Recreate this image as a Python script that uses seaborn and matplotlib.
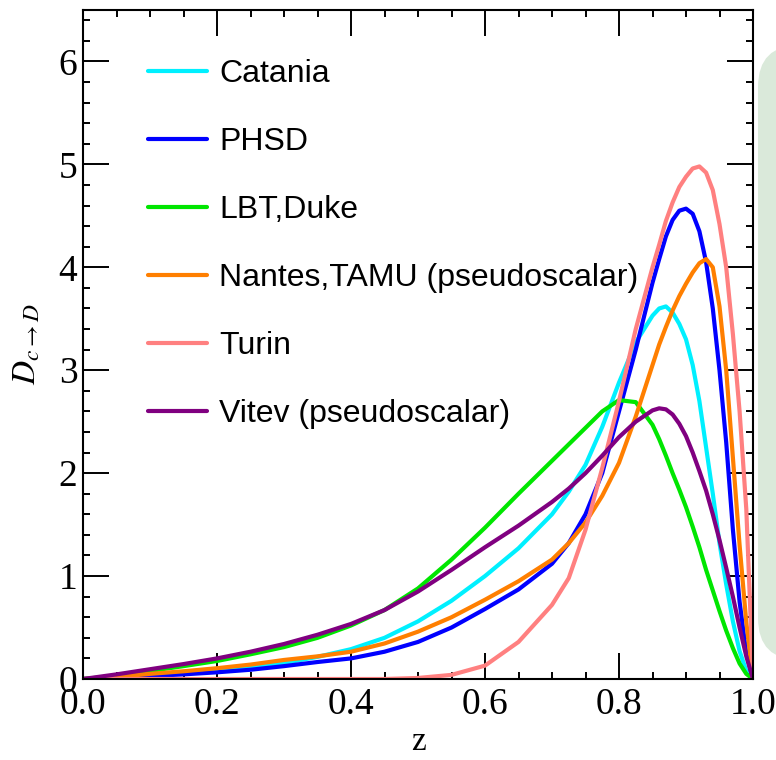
import matplotlib
matplotlib.use("Agg")
import matplotlib.pyplot as plt
import matplotlib.transforms as mtransforms
from matplotlib.patches import FancyBboxPatch
from matplotlib.ticker import MultipleLocator
import pandas as pd
import seaborn as sns

# Momentum fraction grid
z = [0.0, 0.05, 0.1, 0.15, 0.2, 0.25, 0.3, 0.35, 0.4, 0.45, 0.5, 0.55, 0.6, 0.65,
     0.7, 0.725, 0.75, 0.775, 0.8, 0.825, 0.85, 0.86, 0.87, 0.88, 0.89, 0.9,
     0.91, 0.92, 0.93, 0.94, 0.95, 0.96, 0.97, 0.98, 0.99, 1.0]

# D_{c->D}(z) for each transport model
catania = [0, 0.015, 0.035, 0.055, 0.08, 0.11, 0.155, 0.215, 0.29, 0.40, 0.56, 0.76, 1.0, 1.27,
           1.60, 1.82, 2.08, 2.45, 2.88, 3.27, 3.53, 3.60, 3.62, 3.56, 3.45, 3.30,
           3.05, 2.70, 2.25, 1.80, 1.32, 0.92, 0.56, 0.27, 0.08, 0]
phsd = [0, 0.01, 0.028, 0.045, 0.065, 0.09, 0.125, 0.165, 0.20, 0.265, 0.36, 0.50, 0.68, 0.87,
        1.12, 1.32, 1.60, 2.0, 2.6, 3.2, 3.85, 4.08, 4.30, 4.46, 4.55, 4.57,
        4.52, 4.35, 4.05, 3.60, 3.0, 2.3, 1.45, 0.75, 0.25, 0]
lbt = [0, 0.03, 0.078, 0.125, 0.175, 0.24, 0.31, 0.40, 0.52, 0.67, 0.88, 1.16, 1.47, 1.80,
       2.12, 2.28, 2.44, 2.60, 2.71, 2.69, 2.47, 2.33, 2.17, 2.0, 1.84, 1.67,
       1.48, 1.28, 1.06, 0.86, 0.66, 0.47, 0.30, 0.15, 0.05, 0]
nantes = [0, 0.02, 0.05, 0.075, 0.105, 0.14, 0.185, 0.22, 0.265, 0.345, 0.46, 0.60, 0.77, 0.95,
          1.16, 1.32, 1.52, 1.78, 2.1, 2.55, 3.05, 3.25, 3.42, 3.58, 3.72, 3.84,
          3.95, 4.04, 4.08, 4.0, 3.62, 3.0, 2.15, 1.3, 0.55, 0]
turin = [0, 0, 0, 0, 0, 0, 0, 0, 0, 0, 0.01, 0.04, 0.13, 0.36,
         0.72, 0.98, 1.45, 2.05, 2.7, 3.4, 4.0, 4.22, 4.45, 4.63, 4.78, 4.88,
         4.96, 4.98, 4.92, 4.75, 4.42, 4.0, 3.35, 2.6, 1.65, 0]
vitev = [0, 0.045, 0.095, 0.145, 0.20, 0.265, 0.34, 0.43, 0.535, 0.67, 0.85, 1.06, 1.28, 1.49,
         1.72, 1.85, 2.0, 2.17, 2.35, 2.5, 2.61, 2.63, 2.62, 2.57, 2.48, 2.36,
         2.2, 2.02, 1.83, 1.6, 1.35, 1.08, 0.8, 0.5, 0.22, 0]

models = ["Catania", "PHSD", "LBT,Duke", "Nantes,TAMU (pseudoscalar)", "Turin",
          "Vitev (pseudoscalar)"]
colors = ["#00f0ff", "#0000ff", "#00e600", "#ff7f00", "#ff8080", "#800080"]
series = [catania, phsd, lbt, nantes, turin, vitev]

df = pd.concat(
    [pd.DataFrame({"z": z, "D": vals, "model": name}) for name, vals in zip(models, series)],
    ignore_index=True,
)

sns.set_style("ticks")
plt.rcParams.update({
    "mathtext.fontset": "stix",
    "text.color": "black",
    "axes.labelcolor": "black",
    "xtick.color": "black",
    "ytick.color": "black",
    "axes.edgecolor": "black",
})

W, H = 776, 760
fig = plt.figure(figsize=(W / 100, H / 100), dpi=100)

# light green side panel peeking in from the right
panel = FancyBboxPatch((758, H - 660), 80, 615,
                       boxstyle="round,pad=0,rounding_size=42",
                       transform=mtransforms.IdentityTransform(),
                       facecolor="#dae9da", edgecolor="none", zorder=0)
fig.patches.append(panel)

ax = fig.add_axes([83 / W, (H - 679) / H, 670 / W, 669 / H])

sns.lineplot(data=df, x="z", y="D", hue="model", hue_order=models,
             palette=dict(zip(models, colors)), linewidth=3, sort=False,
             estimator=None, ax=ax)

ax.set_xlim(0, 1.0)
ax.set_ylim(0, 6.5)
ax.xaxis.set_minor_locator(MultipleLocator(0.05))
ax.yaxis.set_minor_locator(MultipleLocator(0.2))
ax.set_xticks([0, 0.2, 0.4, 0.6, 0.8, 1.0])
ax.set_xticklabels(["0.0", "0.2", "0.4", "0.6", "0.8", "1.0"])
ax.set_yticks([0, 1, 2, 3, 4, 5, 6])
ax.set_yticklabels(["0", "1", "2", "3", "4", "5", "6"])

ax.tick_params(which="both", direction="in", top=True, right=True, width=1.4,
               color="black", labelcolor="black")
ax.tick_params(which="major", length=19)
ax.tick_params(which="minor", length=5)
ax.tick_params(axis="x", which="major", pad=6)
ax.tick_params(axis="y", which="major", pad=4)
for lab in ax.get_xticklabels() + ax.get_yticklabels():
    lab.set_fontfamily("Liberation Serif")
    lab.set_fontsize(27)
for sp in ax.spines.values():
    sp.set_linewidth(1.5)
    sp.set_color("black")

ax.set_xlabel("z", fontfamily="Liberation Serif", fontsize=24, color="black")
ax.set_ylabel(r"$D_{c\to D}$", fontsize=24, color="black")
ax.xaxis.set_label_coords(0.5, -0.094)
ax.xaxis.label.set_va("center")
ax.yaxis.set_label_coords(-0.085, 0.5)
ax.yaxis.label.set_va("center")

handles, labels = ax.get_legend_handles_labels()
leg = ax.legend(handles, labels, loc="upper left", bbox_to_anchor=(0.097, 0.927),
                frameon=False, borderpad=0, borderaxespad=0, handlelength=1.85,
                handletextpad=0.38, labelspacing=1.19,
                prop={"family": "Liberation Sans", "size": 23})
for t in leg.get_texts():
    t.set_color("black")

fig.savefig("out.png", dpi=100)
